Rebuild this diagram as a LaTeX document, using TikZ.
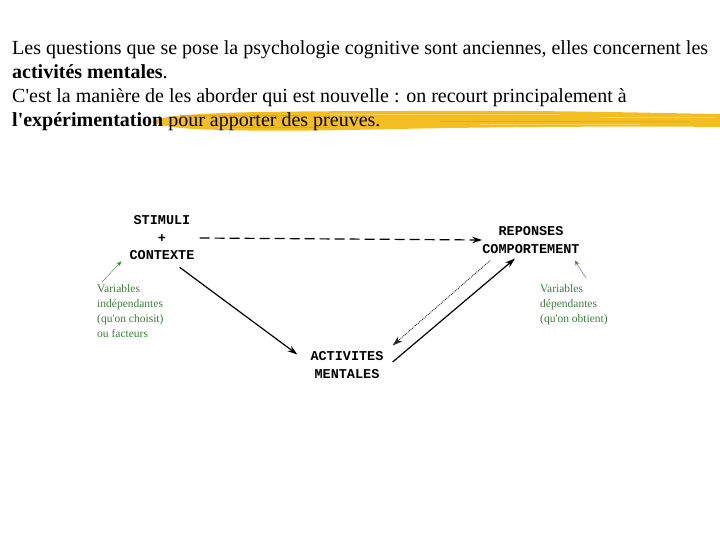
\documentclass[tikz,border=0pt]{standalone}
\usepackage{fontspec}
\setmainfont{Liberation Serif}[Ligatures=TeXOff]
\setmonofont{Liberation Mono}
\usepackage{tikz}
\usetikzlibrary{positioning,arrows.meta,calc}
\definecolor{psgreen}{HTML}{3C7D3C}
\definecolor{psgold}{HTML}{F3BE22}
\definecolor{psgoldlight}{HTML}{F8D160}
\definecolor{psgolddark}{HTML}{E8A912}

\begin{document}
\begin{tikzpicture}[x=1pt,y=-1pt,
    lab/.style={font=\fontsize{13.5}{17.5}\selectfont\ttfamily\bfseries,align=center,inner sep=0pt},
    var/.style={font=\fontsize{11.5}{15}\selectfont,text=psgreen,align=left,inner sep=0pt,anchor=north west},
    main/.style={-{Stealth[length=10pt,width=6.5pt]},line width=1.2pt}]
  \useasboundingbox (0,0) rectangle (720,540);
  % brush stroke behind the last line
  \fill[psgold] (152,122) .. controls (158,116) and (200,113) .. (260,112)
    .. controls (330,111) and (380,111) .. (420,111)
    .. controls (550,110) and (650,113) .. (720,114) -- (720,127)
    .. controls (640,126) and (520,127) .. (450,128)
    .. controls (380,129) and (300,132) .. (220,130)
    .. controls (190,129) and (165,128) .. cycle;
  \foreach \yy/\xa/\xb/\col in {114/330/560/psgoldlight, 117/600/715/psgoldlight, 121/440/690/psgolddark,
      124/480/640/psgoldlight, 127/230/330/psgolddark, 115/180/300/psgolddark}{
    \draw[\col,line width=0.9pt] (\xa,\yy) -- (\xb,\yy);
  }
  \node[anchor=north west,inner sep=0pt,align=left,font=\fontsize{20}{24}\selectfont] (intro) at (12,40)
    {Les questions que se pose la psychologie cognitive sont anciennes, elles concernent les\\
     \textbf{activités mentales}.\\
     C'est la manière de les aborder qui est nouvelle : on recourt principalement à\\
     \textbf{l'expérimentation} pour apporter des preuves.};
  % the three poles
  \node[lab] (stim) at (162,238) {STIMULI\\+\\CONTEXTE};
  \node[lab] (rep) at (531,240) {REPONSES\\COMPORTEMENT};
  \node[lab] (act) at (347,365) {ACTIVITES\\MENTALES};
  \draw[main,dash pattern=on 10pt off 5pt] ($(stim.east)+(5,0)$) -- (rep.west);
  \draw[main] ($(stim.south east)+(-15,7)$) -- ($(act.north west)+(-13,3)$);
  \draw[main] ($(act.east)+(9,-3)$) -- ($(rep.south)+(-16,5)$);
  \draw[-{Stealth[length=10pt,width=6.5pt]},densely dotted,line width=0.9pt,black!85] ($(rep.south west)+(8,7)$) -- ($(act.north east)+(9,-6)$);
  % variables
  \node[var] (indep) at (97,284) {Variables\\indépendantes\\(qu'on choisit)\\ou facteurs};
  \node[var] (dep) at (540,284) {Variables\\dépendantes\\(qu'on obtient)};
  \draw[-{Stealth[length=5pt,width=4pt]},psgreen] ($(indep.north west)+(5,-2)$) -- ($(stim.south west)+(-8,1)$);
  \draw[-{Stealth[length=5pt,width=4pt]},psgreen] ($(dep.north west)+(46,-6)$) -- ($(rep.south east)+(-5,7)$);
\end{tikzpicture}
\end{document}
